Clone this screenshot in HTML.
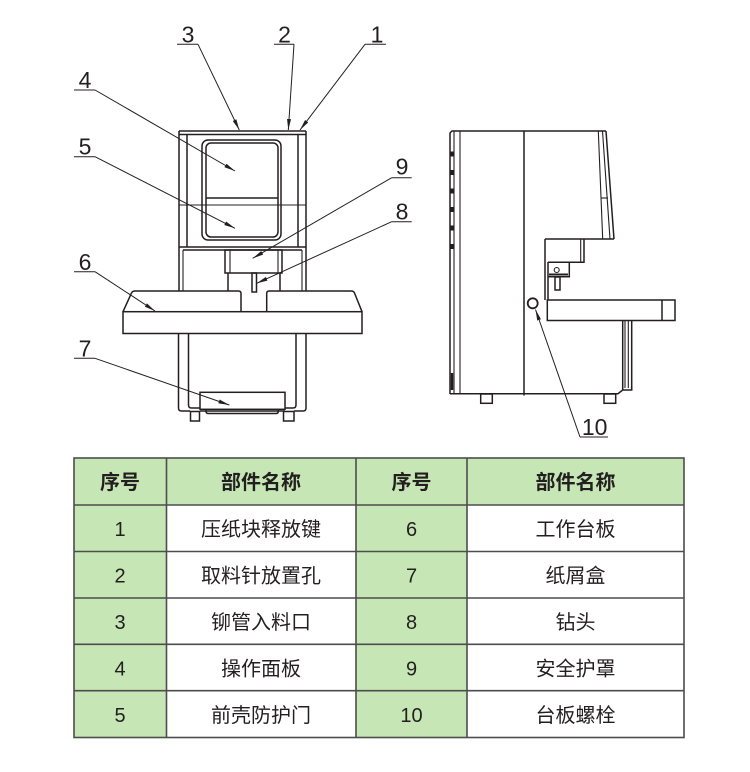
<!DOCTYPE html>
<html>
<head>
<meta charset="utf-8">
<style>
html,body{margin:0;padding:0;background:#fff;}
body{width:750px;height:772px;overflow:hidden;}
svg{display:block;}
.l{fill:none;stroke:#231f20;stroke-width:1.5;}
.t{fill:none;stroke:#231f20;stroke-width:1.1;}
.ld{fill:none;stroke:#231f20;stroke-width:1;}
.num{font-family:"Liberation Sans",sans-serif;font-size:23px;fill:#231f20;text-anchor:middle;}
.th{font-family:"Liberation Sans","Noto Sans CJK SC",sans-serif;font-size:20px;font-weight:bold;fill:#231f20;text-anchor:middle;}
.td{font-family:"Liberation Sans","Noto Sans CJK SC",sans-serif;font-size:20px;fill:#231f20;text-anchor:middle;}
</style>
</head>
<body>
<svg width="750" height="772" viewBox="0 0 750 772" xmlns="http://www.w3.org/2000/svg">
<defs>
<marker id="ar" viewBox="0 0 11 4" refX="11" refY="2" markerUnits="userSpaceOnUse" markerWidth="11" markerHeight="4" orient="auto">
<path d="M0,0 L11,2 L0,4 z" fill="#231f20"/>
</marker>
</defs>

<!-- ============ FRONT VIEW ============ -->
<path class="l" d="M179,131 L306,131 M179,134.5 L306,134.5"/>
<path class="l" d="M179,131 L179,291 M306,131 L306,291"/>
<path class="l" d="M187,134.5 L187,247 M298,134.5 L298,247"/>
<path class="t" d="M179,205 L306,205"/>
<path class="l" d="M179,247 L306,247 M183,250 L302,250"/>
<path class="t" d="M183,250 L183,291 M302,250 L302,291"/>
<rect class="l" x="202" y="140" width="79" height="100" rx="6"/>
<rect class="l" x="206" y="143" width="72" height="94" rx="5"/>
<path class="l" d="M206,198 L278,198"/>
<rect class="l" x="225" y="250" width="57" height="23"/>
<path class="t" d="M230,250 L230,273 M278,250 L278,273"/>
<path class="l" d="M228,273 L228,291 M280,273 L280,291"/>
<rect class="l" x="252" y="273" width="4.5" height="19" fill="#fff"/>
<path class="l" fill="#fff" d="M123,311.7 L131.5,293 Q132.5,291 135,291 L238.5,291 Q241,291 241,293.5 L241,311.7"/>
<path class="l" fill="#fff" d="M266.7,311.7 L266.7,293.5 Q266.7,291 269,291 L351.5,291 Q353.5,291 354.5,293 L362,311.7"/>
<rect class="l" x="123" y="311.7" width="239" height="21.8" fill="#fff"/>
<path class="l" d="M178.5,333.5 L178.5,408 Q178.5,411 181.5,411 L190,411"/>
<path class="l" d="M188.5,333.5 L188.5,405 Q188.5,408 191.5,408 L200,408"/>
<path class="l" d="M306,333.5 L306,408 Q306,411 303,411 L294,411"/>
<path class="l" d="M296,333.5 L296,405 Q296,408 293,408 L285,408"/>
<path class="l" d="M200,411 L285,411"/>
<rect class="l" x="200" y="392.3" width="85" height="17" fill="#fff"/>
<path class="l" d="M206,410 L206,411.5 Q206,413.5 208.5,413.5 L276,413.5 Q278.3,413.5 278.3,411.5 L278.3,410"/>
<rect class="l" x="190.5" y="411.5" width="9" height="9.5"/>
<rect class="l" x="283.5" y="411.5" width="10.5" height="9.5"/>

<!-- front labels -->
<text class="num" x="188" y="42.5">3</text>
<text class="num" x="284.5" y="42.5">2</text>
<text class="num" x="377" y="42.5">1</text>
<text class="num" x="85" y="88">4</text>
<text class="num" x="85" y="154.7">5</text>
<text class="num" x="85" y="270">6</text>
<text class="num" x="85" y="356.5">7</text>
<text class="num" x="402" y="174.7">9</text>
<text class="num" x="402" y="219.5">8</text>
<path class="ld" d="M177,44.3 L198,44.3 M274,44.3 L294,44.3 M365,44.3 L386,44.3"/>
<path class="ld" d="M74,90 L95,90 M74,156.7 L95,156.7 M74,271.7 L95,271.7 M74,358.3 L95,358.3"/>
<path class="ld" d="M391.7,177.7 L411.7,177.7 M391.7,221.7 L411.7,221.7"/>
<path class="ld" marker-end="url(#ar)" d="M198,44.3 L239.3,130"/>
<path class="ld" marker-end="url(#ar)" d="M294,44.3 L288.3,130"/>
<path class="ld" marker-end="url(#ar)" d="M365,44.3 L300,130"/>
<path class="ld" marker-end="url(#ar)" d="M95,90 L235,171"/>
<path class="ld" marker-end="url(#ar)" d="M95,156.7 L235,228.3"/>
<path class="ld" marker-end="url(#ar)" d="M391.7,177.7 L252.7,258.3"/>
<path class="ld" marker-end="url(#ar)" d="M391.7,221.7 L256.7,283.3"/>
<path class="ld" marker-end="url(#ar)" d="M95,271.7 L155,311"/>
<path class="ld" marker-end="url(#ar)" d="M95,358.3 L229.3,405"/>

<!-- ============ SIDE VIEW ============ -->
<path class="l" d="M450,394 L450,133 L452,131 L606,131"/>
<path class="t" d="M454,131 L454,394 M460,131 L460,394"/>
<path stroke="#231f20" stroke-width="3" fill="none" stroke-dasharray="5 13.5" d="M452,151.5 L452,252"/>
<path stroke="#231f20" stroke-width="2.5" fill="none" d="M452,373 L452,390"/>
<path class="l" d="M524,131 L524,395.5"/>
<path class="l" d="M606,131 L614,239"/>
<path class="t" d="M598.3,131 L602.7,239 M602.5,131 L610,239"/>
<path class="t" d="M600.5,198 L608,198"/>
<path class="l" d="M545,239 L614,239"/>
<path class="l" d="M545,239 L545,300 M548,262 L548,300"/>
<path class="l" d="M584,239 L584,262.3 L548,262.3"/>
<path class="t" d="M580.7,239 L580.7,262.3"/>
<path class="l" d="M569.3,262.3 L569.3,276.7 L548,276.7"/>
<path stroke="#231f20" stroke-width="2" d="M549,274.5 L568,274.5"/>
<circle class="t" cx="556.7" cy="270" r="2.5"/>
<rect class="l" x="555" y="277" width="5" height="13" fill="#fff"/>
<rect class="l" x="547.3" y="300" width="127.7" height="20.5" fill="#fff"/>
<path class="l" d="M662,300 L662,320.5"/>
<path class="l" d="M622.7,320.5 L622.7,390 M631.7,320.5 L631.7,390"/>
<path class="t" d="M625,320.5 L625,388 M628.3,320.5 L628.3,388"/>
<path class="l" d="M450,393.7 L618,393.7 L622.7,390 L631.7,390 L631.7,386"/>
<rect class="l" x="480.7" y="394" width="11.6" height="9.3"/>
<rect class="l" x="604" y="394" width="11.7" height="9.3"/>
<circle cx="532.7" cy="303.3" r="5" fill="#fff" stroke="#231f20" stroke-width="1.8"/>
<path class="ld" marker-end="url(#ar)" d="M580,437 L535.5,309.5"/>
<path class="ld" d="M580,437 L608,437"/>
<text class="num" x="594.7" y="435">10</text>

<!-- ============ TABLE ============ -->
<rect x="74" y="458" width="610" height="47" fill="#c6e7b5"/>
<rect x="74" y="505" width="92.5" height="232.5" fill="#c6e7b5"/>
<rect x="356" y="505" width="111" height="232.5" fill="#c6e7b5"/>
<g stroke="#4d4d4d" stroke-width="1.6" fill="none">
<rect x="74" y="458" width="610" height="279.5"/>
<path d="M166.5,458 L166.5,737.5 M356,458 L356,737.5 M467,458 L467,737.5"/>
<path d="M74,505 L684,505 M74,551.5 L684,551.5 M74,598 L684,598 M74,644.3 L684,644.3 M74,690.7 L684,690.7"/>
</g>
<text class="th" x="120" y="489">序号</text>
<text class="th" x="261" y="489">部件名称</text>
<text class="th" x="411.5" y="489">序号</text>
<text class="th" x="575.5" y="489">部件名称</text>

<text class="td" x="120" y="536">1</text>
<text class="td" x="261" y="536">压纸块释放键</text>
<text class="td" x="411.5" y="536">6</text>
<text class="td" x="575.5" y="536">工作台板</text>

<text class="td" x="120" y="582.5">2</text>
<text class="td" x="261" y="582.5">取料针放置孔</text>
<text class="td" x="411.5" y="582.5">7</text>
<text class="td" x="575.5" y="582.5">纸屑盒</text>

<text class="td" x="120" y="629">3</text>
<text class="td" x="261" y="629">铆管入料口</text>
<text class="td" x="411.5" y="629">8</text>
<text class="td" x="575.5" y="629">钻头</text>

<text class="td" x="120" y="675.5">4</text>
<text class="td" x="261" y="675.5">操作面板</text>
<text class="td" x="411.5" y="675.5">9</text>
<text class="td" x="575.5" y="675.5">安全护罩</text>

<text class="td" x="120" y="722">5</text>
<text class="td" x="261" y="722">前壳防护门</text>
<text class="td" x="411.5" y="722">10</text>
<text class="td" x="575.5" y="722">台板螺栓</text>
</svg>
</body>
</html>
